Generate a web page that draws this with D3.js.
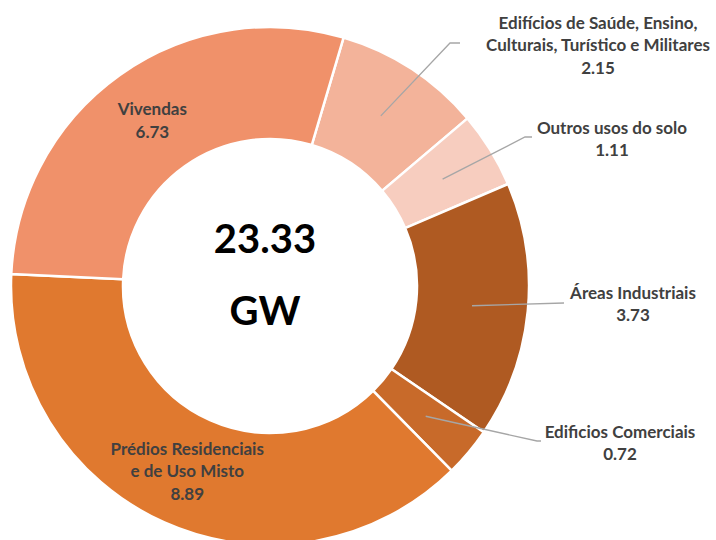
<!DOCTYPE html>
<html>
<head>
<meta charset="utf-8">
<script src="https://cdn.jsdelivr.net/npm/d3@7"></script>
<style>
  html, body { margin: 0; padding: 0; background: #fff; }
  svg { display: block; }
  text { font-family: Lato, "Open Sans", sans-serif; }
</style>
</head>
<body>
<svg id="chart" width="716" height="540"></svg>
<script>
// ---- data ----
const categories = [
  "Edifícios de Saúde, Ensino, Culturais, Turístico e Militares",
  "Outros usos do solo",
  "Áreas Industriais",
  "Edificios Comerciais",
  "Prédios Residenciais e de Uso Misto",
  "Vivendas"
];
const labelLines = [
  ["Edifícios de Saúde, Ensino,", "Culturais, Turístico e Militares"],
  ["Outros usos do solo"],
  ["Áreas Industriais"],
  ["Edificios Comerciais"],
  ["Prédios Residenciais", "e de Uso Misto"],
  ["Vivendas"]
];
const values = [2.15, 1.11, 3.73, 0.72, 8.89, 6.73];
const totalLabel = "23.33";
const unitLabel = "GW";

// ---- styling / layout ----
const colors = ["#F3B39A", "#F7CDBF", "#AF5A22", "#C86A2A", "#E0792F", "#F0916A"];
const cx = 270, cy = 286, rOuter = 259, rInner = 147;
const startDeg = 16.5;
// outside label layout: text centre x, first line y, elbow point, line end x (null = inside label)
const outside = [
  { tx: 598, ty: 23, ex: 450, ey: 43, endX: 460 },
  { tx: 612, ty: 128, ex: 525, ey: 137, endX: 532 },
  { tx: 633, ty: 293, ex: 564, ey: 303, endX: 564 },
  { tx: 620, ty: 432, ex: 537, ey: 441, endX: 541 },
  null,
  null
];

const svg = d3.select("#chart");
const g = svg.append("g").attr("transform", `translate(${cx},${cy})`);

const start = startDeg * Math.PI / 180;
const pie = d3.pie().sort(null).value(d => d).startAngle(start).endAngle(start + 2 * Math.PI);
const arcs = pie(values);
const arc = d3.arc().innerRadius(rInner).outerRadius(rOuter);

g.selectAll("path.slice")
  .data(arcs)
  .join("path")
  .attr("class", "slice")
  .attr("d", arc)
  .attr("fill", (d, i) => colors[i])
  .attr("stroke", "#fff")
  .attr("stroke-width", 2.5)
  .attr("stroke-linejoin", "miter");

const lineH = 22.5;
const labelColor = "#404040";
const labelSize = 17;

arcs.forEach((d, i) => {
  const [mx, my] = arc.centroid(d);
  const lines = labelLines[i].concat([values[i].toFixed(2)]);
  const o = outside[i];
  if (o) {
    svg.append("polyline")
      .attr("points", `${cx + mx},${cy + my} ${o.ex},${o.ey} ${o.endX},${o.ey}`)
      .attr("fill", "none")
      .attr("stroke", "#A6A6A6")
      .attr("stroke-width", 1.3);
    const t = svg.append("text")
      .attr("text-anchor", "middle")
      .attr("font-weight", "bold")
      .attr("font-size", labelSize)
      .attr("fill", labelColor);
    lines.forEach((s, k) => {
      t.append("tspan").attr("x", o.tx).attr("y", o.ty + k * lineH).attr("dy", "0.35em").text(s);
    });
  } else {
    const n = lines.length;
    const t = svg.append("text")
      .attr("text-anchor", "middle")
      .attr("font-weight", "bold")
      .attr("font-size", labelSize)
      .attr("fill", labelColor);
    lines.forEach((s, k) => {
      t.append("tspan")
        .attr("x", cx + mx)
        .attr("y", cy + my + (k - (n - 1) / 2) * lineH)
        .attr("dy", "0.35em")
        .text(s);
    });
  }
});

svg.append("text")
  .attr("x", 265).attr("y", 239).attr("dy", "0.35em")
  .attr("text-anchor", "middle")
  .attr("font-weight", "bold").attr("font-size", 40).attr("fill", "#000")
  .text(totalLabel);
svg.append("text")
  .attr("x", 265).attr("y", 311).attr("dy", "0.35em")
  .attr("text-anchor", "middle")
  .attr("font-weight", "bold").attr("font-size", 40).attr("fill", "#000")
  .text(unitLabel);
</script>
</body>
</html>
